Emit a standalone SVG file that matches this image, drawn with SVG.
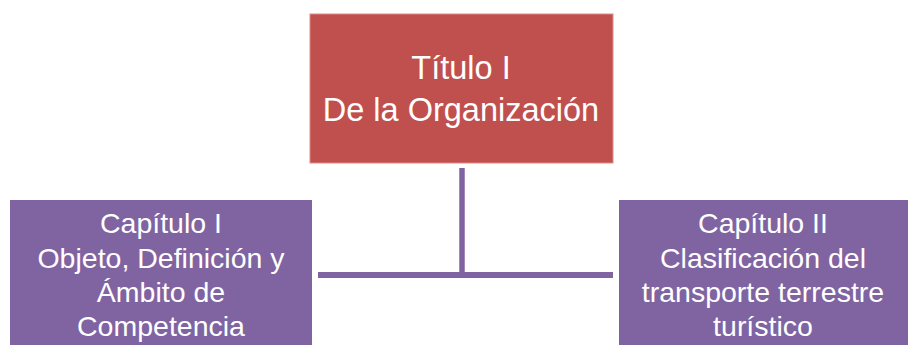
<svg xmlns="http://www.w3.org/2000/svg" width="909" height="345" viewBox="0 0 909 345">
<style>
.red{fill:#C0504D;stroke:#E08A88;stroke-width:1}
.pur{fill:#8064A2}
.t{font-family:"Liberation Sans",Arial,sans-serif;fill:#FFFFFF;text-anchor:middle}
.big{font-size:32.5px}
.sm{font-size:28.5px}
.conn{stroke:#8064A2;fill:none}
</style>
<rect width="909" height="345" fill="#FFFFFF"/>
<g id="connectors">
<line class="conn" x1="462" y1="168" x2="462" y2="278" stroke-width="5.5"/>
<line class="conn" x1="318" y1="275" x2="613" y2="275" stroke-width="6"/>
</g>
<g id="titulo">
<rect class="red" x="310" y="14" width="303" height="149"/>
<text class="t big" x="461" y="79">Título I</text>
<text class="t big" x="461" y="121">De la Organización</text>
</g>
<g id="capitulo1">
<rect class="pur" x="10" y="200" width="302" height="150"/>
<text class="t sm" x="161" y="233">Capítulo I</text>
<text class="t sm" x="161" y="268">Objeto, Definición y</text>
<text class="t sm" x="161" y="302">Ámbito de</text>
<text class="t sm" x="161" y="336">Competencia</text>
</g>
<g id="capitulo2">
<rect class="pur" x="619" y="200" width="289" height="150"/>
<text class="t sm" x="763" y="233">Capítulo II</text>
<text class="t sm" x="763" y="268">Clasificación del</text>
<text class="t sm" x="763" y="302">transporte terrestre</text>
<text class="t sm" x="763" y="336">turístico</text>
</g>
</svg>
